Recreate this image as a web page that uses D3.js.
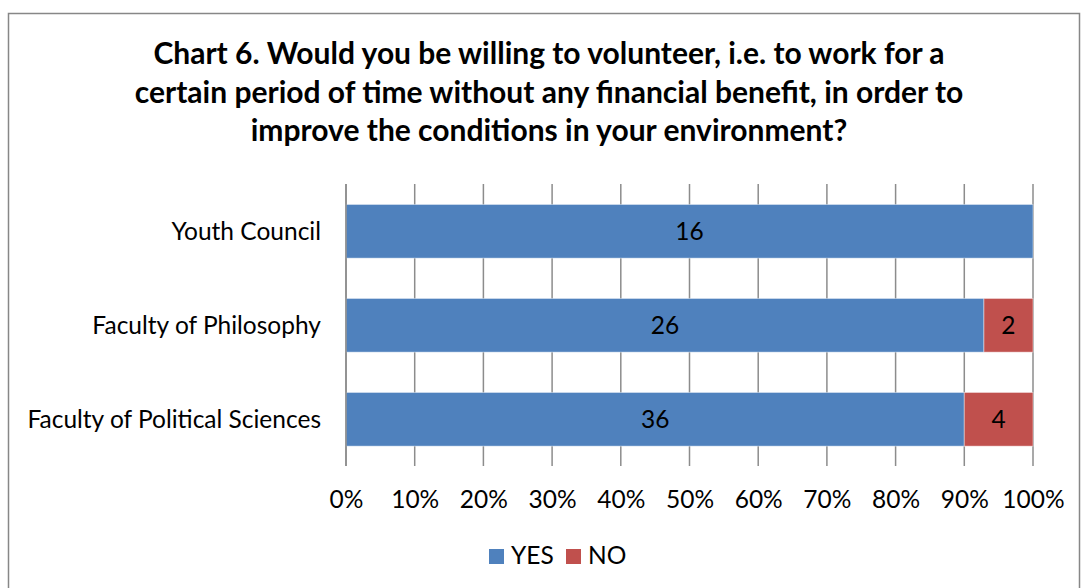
<!DOCTYPE html>
<html>
<head>
<meta charset="utf-8">
<script src="https://cdn.jsdelivr.net/npm/d3@7"></script>
<style>
  html, body { margin: 0; padding: 0; background: #fff; }
  svg { display: block; }
  text { font-family: Lato, "Open Sans", sans-serif; fill: #000; }
</style>
</head>
<body>
<svg id="chart" width="1081" height="588"></svg>
<script>
// Survey answers per group (counts of respondents)
const categories = ["Youth Council", "Faculty of Philosophy", "Faculty of Political Sciences"];
const seriesNames = ["YES", "NO"];
const yesValues = [16, 26, 36];
const noValues = [0, 2, 4];
const tickValues = [0, 0.1, 0.2, 0.3, 0.4, 0.5, 0.6, 0.7, 0.8, 0.9, 1.0];
const titleLines = [
  "Chart 6. Would you be willing to volunteer, i.e. to work for a",
  "certain period of time without any financial benefit, in order to",
  "improve the conditions in your environment?"
];
const colors = { YES: "#4F81BD", NO: "#C0504D" };

const svg = d3.select("#chart");

// outer chart frame
svg.append("rect")
  .attr("x", 8.5).attr("y", 13.5)
  .attr("width", 1071).attr("height", 600)
  .attr("fill", "#fff")
  .attr("stroke", "#878787").attr("stroke-width", 1.5);

// title
const title = svg.append("text")
  .attr("text-anchor", "middle")
  .attr("font-weight", "bold")
  .attr("font-size", 30);
titleLines.forEach((line, i) => {
  title.append("tspan").attr("x", 549).attr("y", 64 + i * 38.5).text(line);
});

const x = d3.scaleLinear().domain([0, 1]).range([346, 1033]);
const y = d3.scaleBand().domain(categories).range([184.3, 466.3])
  .paddingInner(0.4286).paddingOuter(0.2143);

// rows converted to shares of each group's total
const rows = categories.map((c, i) => {
  const total = yesValues[i] + noValues[i];
  return { category: c, YES: yesValues[i] / total, NO: noValues[i] / total,
           YESn: yesValues[i], NOn: noValues[i] };
});
const stacked = d3.stack().keys(seriesNames)(rows);

// vertical gridlines
svg.append("g")
  .selectAll("line")
  .data(tickValues)
  .join("line")
  .attr("x1", d => x(d)).attr("x2", d => x(d))
  .attr("y1", 184).attr("y2", 466)
  .attr("stroke", "#8c8c8c").attr("stroke-width", 1.5);

// bars
const layers = svg.append("g")
  .selectAll("g")
  .data(stacked)
  .join("g")
  .attr("fill", d => colors[d.key]);

layers.selectAll("rect")
  .data(d => d.filter(p => p[1] - p[0] > 0))
  .join("rect")
  .attr("x", d => x(d[0]))
  .attr("y", d => y(d.data.category))
  .attr("width", d => x(d[1]) - x(d[0]))
  .attr("height", y.bandwidth())
  .attr("stroke", "rgba(255,255,255,0.45)")
  .attr("stroke-width", 1);

// value labels
stacked.forEach(layer => {
  svg.append("g")
    .selectAll("text")
    .data(layer.filter(p => p[1] - p[0] > 0))
    .join("text")
    .attr("x", d => x((d[0] + d[1]) / 2))
    .attr("y", d => y(d.data.category) + y.bandwidth() / 2)
    .attr("dy", "0.36em")
    .attr("text-anchor", "middle")
    .attr("font-size", 24.5)
    .text(d => d.data[layer.key + "n"]);
});

// category axis (left)
const yAxis = svg.append("g")
  .attr("transform", "translate(346,0)")
  .call(d3.axisLeft(y).tickSize(0).tickPadding(25));
yAxis.select(".domain").attr("stroke", "#8c8c8c").attr("stroke-width", 1.5)
  .attr("d", "M0,184V466");
yAxis.selectAll("text")
  .attr("font-size", 24.5)
  .attr("font-family", "Lato, sans-serif")
  .attr("fill", "#000")
  .attr("dy", "0.36em");

// value axis (bottom)
const xAxis = svg.append("g")
  .attr("transform", "translate(0,466)")
  .call(d3.axisBottom(x).tickValues(tickValues).tickFormat(d3.format(".0%"))
    .tickSize(0).tickPadding(25));
xAxis.select(".domain").remove();
xAxis.selectAll("text")
  .attr("font-size", 24.5)
  .attr("font-family", "Lato, sans-serif")
  .attr("fill", "#000");

// legend
const legend = svg.append("g");
const legendItems = [
  { key: "YES", sx: 489, tx: 511 },
  { key: "NO", sx: 566, tx: 588 }
];
legend.selectAll("rect")
  .data(legendItems)
  .join("rect")
  .attr("x", d => d.sx).attr("y", 549)
  .attr("width", 15).attr("height", 15)
  .attr("fill", d => colors[d.key]);
legend.selectAll("text")
  .data(legendItems)
  .join("text")
  .attr("x", d => d.tx).attr("y", 564)
  .attr("font-size", 24.5)
  .text(d => d.key);
</script>
</body>
</html>
